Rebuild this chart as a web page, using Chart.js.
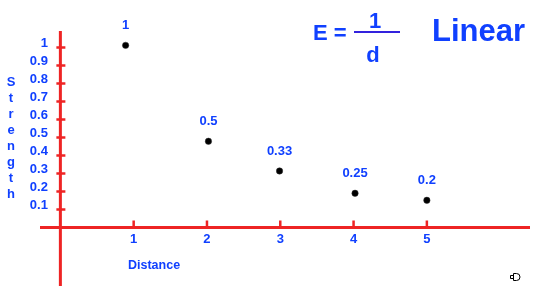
<!DOCTYPE html>
<html>
<head>
<meta charset="utf-8">
<script src="https://cdn.jsdelivr.net/npm/chart.js@4/dist/chart.umd.min.js"></script>
<style>
  html, body { margin: 0; padding: 0; background: #ffffff; }
  canvas { display: block; }
</style>
</head>
<body>
<canvas id="c" width="540" height="299"></canvas>
<script>
// ---- data ----
const distances   = [0.89, 2.02, 2.99, 4.02, 5.0];
const strengths   = [1.012, 0.479, 0.314, 0.190, 0.151];
const pointLabels = ['1', '0.5', '0.33', '0.25', '0.2'];
const xTicks      = [1, 2, 3, 4, 5];
const yTicks      = [0.1, 0.2, 0.3, 0.4, 0.5, 0.6, 0.7, 0.8, 0.9, 1];
const yTickLabels = ['0.1', '0.2', '0.3', '0.4', '0.5', '0.6', '0.7', '0.8', '0.9', '1'];
const xTitle = 'Distance';
const yTitle = 'Strength';
const bigTitle = 'Linear';

const RED = '#ee2424';
const BLUE = '#1040ff';
const FONT = '"Liberation Sans", Arial, sans-serif';

const axesPlugin = {
  id: 'axesPlugin',
  beforeDatasetsDraw(chart) {
    const ctx = chart.ctx;
    const xs = chart.scales.x, ys = chart.scales.y;
    const area = chart.chartArea;
    const x0 = xs.getPixelForValue(0);
    const y0 = ys.getPixelForValue(0);
    ctx.save();
    // axis lines
    ctx.strokeStyle = RED;
    ctx.lineWidth = 3;
    ctx.beginPath();
    ctx.moveTo(x0, area.top); ctx.lineTo(x0, area.bottom);
    ctx.moveTo(area.left, y0); ctx.lineTo(area.right, y0);
    ctx.stroke();
    // tick marks
    ctx.lineWidth = 2.5;
    ctx.beginPath();
    yTicks.forEach(v => {
      const y = ys.getPixelForValue(v);
      ctx.moveTo(x0 - 4, y); ctx.lineTo(x0 + 5, y);
    });
    xTicks.forEach(v => {
      const x = xs.getPixelForValue(v);
      ctx.moveTo(x, y0 - 7); ctx.lineTo(x, y0 + 1);
    });
    ctx.stroke();
    // tick labels
    ctx.fillStyle = BLUE;
    ctx.font = 'bold 13px ' + FONT;
    ctx.textAlign = 'right';
    ctx.textBaseline = 'middle';
    yTicks.forEach((v, i) => {
      ctx.fillText(yTickLabels[i], x0 - 12.5, ys.getPixelForValue(v) - 4.5);
    });
    ctx.textAlign = 'center';
    xTicks.forEach(v => {
      ctx.fillText(String(v), xs.getPixelForValue(v), y0 + 12);
    });
    // axis titles
    ctx.textAlign = 'left';
    ctx.textBaseline = 'alphabetic';
    ctx.font = 'bold 12.5px ' + FONT;
    ctx.fillText(xTitle, 128, 269);
    ctx.textAlign = 'center';
    ctx.font = 'bold 13px ' + FONT;
    yTitle.split('').forEach((ch, i) => {
      ctx.fillText(ch, 11, 86 + i * 16);
    });
    // formula E = 1/d
    ctx.font = 'bold 22px ' + FONT;
    ctx.textAlign = 'left';
    ctx.fillText('E =', 313, 40);
    ctx.textAlign = 'center';
    ctx.fillText('1', 375, 27.5);
    ctx.fillText('d', 373, 62);
    ctx.strokeStyle = '#3322dd';
    ctx.lineWidth = 2;
    ctx.beginPath();
    ctx.moveTo(354, 32); ctx.lineTo(400, 32);
    ctx.stroke();
    // big title
    ctx.font = 'bold 31px ' + FONT;
    ctx.textAlign = 'left';
    ctx.fillText(bigTitle, 432, 41);
    // small cursor glyph in the corner
    ctx.strokeStyle = '#000';
    ctx.lineWidth = 1;
    ctx.beginPath();
    ctx.rect(510.5, 275.5, 3, 3);
    ctx.moveTo(513.5, 273.5);
    ctx.lineTo(516.5, 273.5);
    ctx.arc(516.5, 277, 3.5, -Math.PI / 2, Math.PI / 2);
    ctx.lineTo(513.5, 280.5);
    ctx.closePath();
    ctx.stroke();
    ctx.restore();
  },
  afterDatasetsDraw(chart) {
    const ctx = chart.ctx;
    const meta = chart.getDatasetMeta(0);
    ctx.save();
    ctx.fillStyle = BLUE;
    ctx.font = 'bold 13px ' + FONT;
    ctx.textAlign = 'center';
    ctx.textBaseline = 'middle';
    meta.data.forEach((pt, i) => {
      ctx.fillText(pointLabels[i], pt.x, pt.y - 20);
    });
    ctx.restore();
  }
};

new Chart(document.getElementById('c'), {
  type: 'scatter',
  data: {
    datasets: [{
      data: distances.map((d, i) => ({ x: d, y: strengths[i] })),
      pointRadius: 3.2,
      pointBackgroundColor: '#000',
      pointBorderColor: '#333',
      pointBorderWidth: 0.5,
      showLine: false
    }]
  },
  options: {
    responsive: false,
    animation: false,
    events: [],
    layout: { padding: { left: 40, right: 10, top: 31, bottom: 13 } },
    plugins: { legend: { display: false }, tooltip: { enabled: false }, title: { display: false } },
    scales: {
      x: { type: 'linear', display: false, min: -0.278, max: 6.407 },
      y: { type: 'linear', display: false, min: -0.325, max: 1.0917 }
    }
  },
  plugins: [axesPlugin]
});
</script>
</body>
</html>
